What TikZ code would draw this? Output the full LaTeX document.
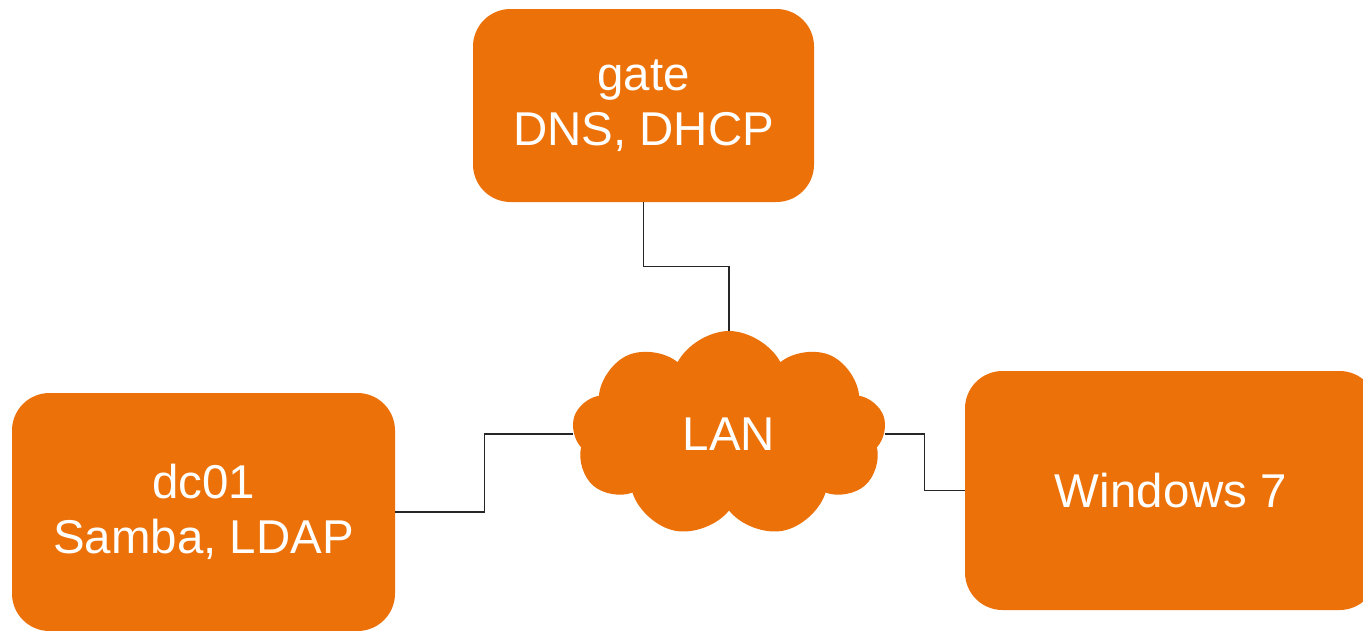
\documentclass[tikz,border=0pt]{standalone}
\usepackage{fontspec}
\setmainfont{Liberation Sans}
\usetikzlibrary{shapes.symbols,calc}
\definecolor{hostorange}{HTML}{EC7109}
\begin{document}
\begin{tikzpicture}[
  host/.style={fill=hostorange,text=white,rounded corners=0.75cm,align=center,inner sep=0pt,
    font=\fontsize{27}{31}\selectfont},
  link/.style={line width=0.6pt,gray!30!black}
]
\useasboundingbox (0,0) rectangle (27.26,12.6);
\node[host,minimum width=6.82cm,minimum height=3.86cm] (gate) at (12.87,10.49) {gate\\DNS, DHCP};
\node[host,minimum width=7.66cm,minimum height=4.76cm] (dc) at (4.07,2.36) {dc01\\Samba, LDAP};
\node[host,minimum width=8.24cm,minimum height=4.78cm] (win) at (23.42,2.79) {Windows 7};
\node[cloud,cloud puffs=9,cloud puff arc=125,cloud ignores aspect,fill=hostorange,text=white,
  minimum width=6.28cm,minimum height=4.12cm,inner sep=0pt,font=\fontsize{27}{31}\selectfont] (lan) at (14.58,3.92) {LAN\hspace{0.45cm}};
\draw[link] (gate.south) |- ($(gate.south)!0.5!(lan.north)$) -| (lan.north);
\draw[link] (dc.east) -| ($(dc.east)!0.5!(lan.west)$) |- (lan.west);
\draw[link] (lan.east) -| ($(lan.east)!0.5!(win.west)$) |- (win.west);
\end{tikzpicture}
\end{document}
